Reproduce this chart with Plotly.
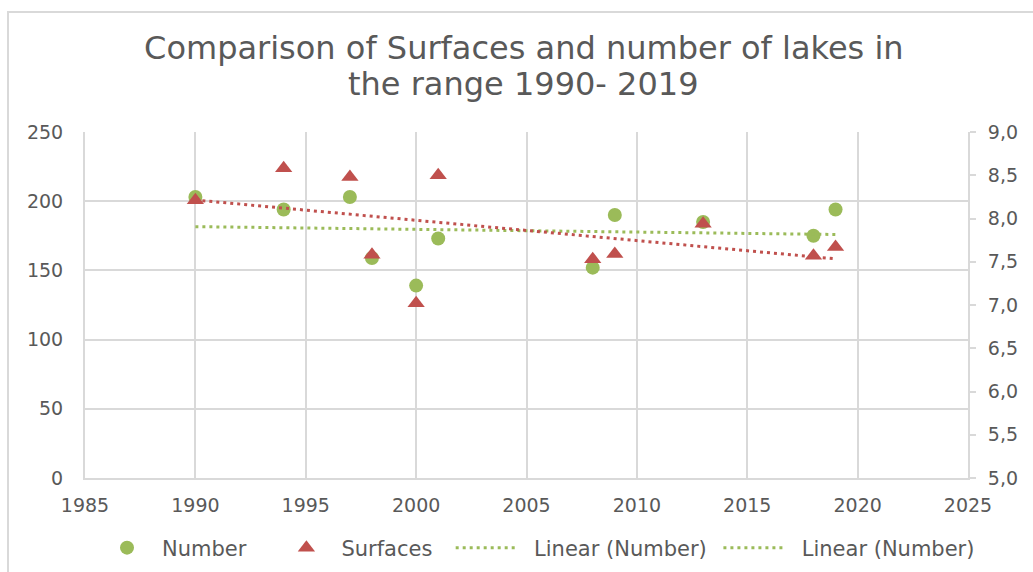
import numpy as np
import plotly.graph_objects as go

# Survey years and observed values
years = [1990, 1994, 1997, 1998, 2000, 2001, 2008, 2009, 2013, 2018, 2019]
number_of_lakes = [203, 194, 203, 159, 139, 173, 152, 190, 185, 175, 194]
surfaces = [8.21, 8.58, 8.48, 7.58, 7.02, 8.50, 7.53, 7.59, 7.94, 7.57, 7.67]

title_lines = ["Comparison of Surfaces and number of lakes in", "the range 1990- 2019"]

GREEN = "#9BBB59"
RED = "#C0504D"
TEXT = "#595959"
GRID = "#D9D9D9"
FONT = "DejaVu Sans, Liberation Sans, sans-serif"
NBSP = "\u00a0"

# Plot area in pixels (used to place the frame and the second title line)
PLOT_L, PLOT_R, PLOT_T, PLOT_B = 85, 968, 132, 478
PLOT_W, PLOT_H = PLOT_R - PLOT_L, PLOT_B - PLOT_T


def px_x(px):
    return (px - PLOT_L) / PLOT_W


def px_y(py):
    return (PLOT_B - py) / PLOT_H


# Least-squares linear trends of both series
x = np.array(years, dtype=float)
trend_x = [x.min(), x.max()]
k_n, b_n = np.polyfit(x, np.array(number_of_lakes, dtype=float), 1)
k_s, b_s = np.polyfit(x, np.array(surfaces, dtype=float), 1)
trend_n = [k_n * v + b_n for v in trend_x]
trend_s = [k_s * v + b_s for v in trend_x]

fig = go.Figure()

fig.add_trace(go.Scatter(
    x=years, y=number_of_lakes, name="Number" + NBSP * 3, mode="markers",
    marker=dict(symbol="circle", size=14, color=GREEN), yaxis="y",
))
fig.add_trace(go.Scatter(
    x=years, y=surfaces, name="Surfaces" + NBSP * 2, mode="markers",
    marker=dict(symbol="triangle-up", size=15, color=RED), yaxis="y2",
))
fig.add_trace(go.Scatter(
    x=trend_x, y=trend_n, name=NBSP * 2 + "Linear (Number)" + NBSP, mode="lines",
    line=dict(color=GREEN, width=3, dash="3px,4px"), yaxis="y",
))
fig.add_trace(go.Scatter(
    x=trend_x, y=trend_s, name="Linear (Surfaces)", mode="lines",
    line=dict(color=RED, width=3, dash="3px,4px"), yaxis="y2",
    showlegend=False,
))
# Legend entry for the second trend line
fig.add_trace(go.Scatter(
    x=[None], y=[None], name=NBSP * 2 + "Linear (Number)", mode="lines",
    line=dict(color=GREEN, width=3, dash="3px,4px"), yaxis="y",
))

fig.update_layout(
    width=1033, height=572,
    margin=dict(l=PLOT_L, r=1033 - PLOT_R, t=PLOT_T, b=572 - PLOT_B),
    paper_bgcolor="white", plot_bgcolor="white",
    separators=", ",
    font=dict(family=FONT, color=TEXT, size=19),
    title=dict(
        text=title_lines[0],
        x=0.497, xref="paper", xanchor="center",
        y=1 - 48 / 572, yref="container", yanchor="middle",
        font=dict(family=FONT, size=32, color=TEXT),
    ),
    annotations=[dict(
        text=title_lines[1], showarrow=False,
        xref="paper", yref="paper", x=0.497, y=px_y(84),
        xanchor="center", yanchor="middle",
        font=dict(family=FONT, size=32, color=TEXT),
    )],
    xaxis=dict(
        range=[1985, 2025], dtick=5, tick0=1985,
        showgrid=True, gridcolor=GRID, gridwidth=2,
        showline=True, linecolor=GRID, linewidth=2,
        zeroline=False, ticks="", ticklabelstandoff=9,
        tickfont=dict(size=19, color=TEXT),
    ),
    yaxis=dict(
        range=[0, 250], dtick=50, tick0=0,
        showgrid=True, gridcolor=GRID, gridwidth=2,
        showline=True, linecolor=GRID, linewidth=2,
        zeroline=False, ticks="", ticklabelstandoff=16,
        tickfont=dict(size=19, color=TEXT),
    ),
    yaxis2=dict(
        range=[5, 9], dtick=0.5, tick0=5, tickformat=".1f",
        overlaying="y", side="right",
        showgrid=False, zeroline=False,
        showline=True, linecolor=GRID, linewidth=2,
        ticks="outside", ticklen=6, tickcolor=GRID, tickwidth=2,
        ticklabelstandoff=8,
        tickfont=dict(size=19, color=TEXT),
    ),
    legend=dict(
        orientation="h", x=px_x(92), xanchor="left",
        y=(572 - 548) / 572, yref="container", yanchor="middle",
        font=dict(family=FONT, size=21, color=TEXT),
        itemwidth=60, bgcolor="rgba(0,0,0,0)",
    ),
    showlegend=True,
    shapes=[dict(
        type="rect", xref="paper", yref="paper",
        x0=px_x(8), x1=px_x(1045), y0=px_y(585), y1=px_y(12),
        line=dict(color=GRID, width=2), fillcolor="rgba(0,0,0,0)",
        layer="below",
    )],
)

fig.write_html("out.html")
